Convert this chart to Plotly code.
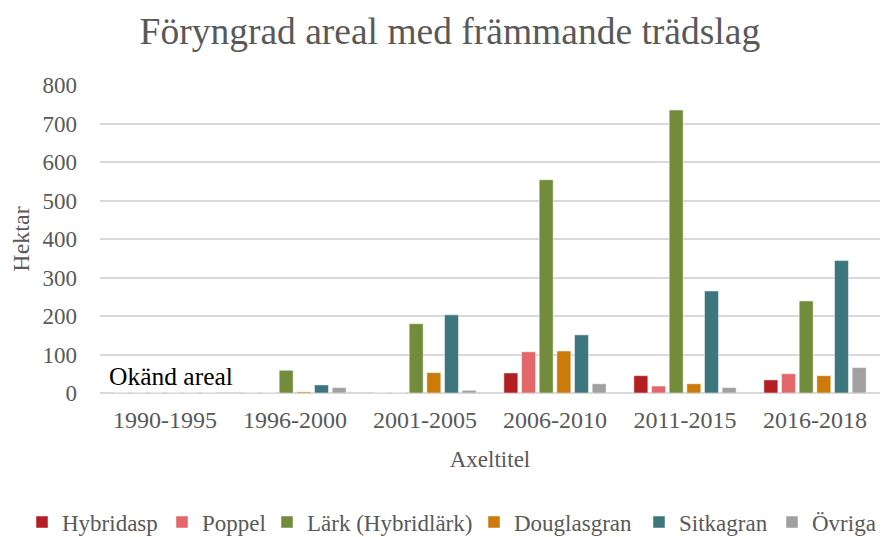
import plotly.graph_objects as go

categories = ["1990-1995", "1996-2000", "2001-2005", "2006-2010", "2011-2015", "2016-2018"]
series_names = ["Hybridasp", "Poppel", "Lärk (Hybridlärk)", "Douglasgran", "Sitkagran", "Övriga"]
hybridasp = [0, 0, 0, 52, 45, 34]
poppel = [0, 0, 0, 107, 18, 50]
lark = [0, 59, 180, 554, 735, 239]
douglasgran = [0, 3, 53, 109, 24, 45]
sitkagran = [0, 21, 203, 151, 265, 344]
ovriga = [0, 14, 7, 24, 14, 66]
colors = ["#B41F24", "#E4676A", "#728C3B", "#CC7A0A", "#3E767E", "#A0A0A0"]
legend_widths = [95, 60, 162, 120, 88, 62]

values = [hybridasp, poppel, lark, douglasgran, sitkagran, ovriga]
font = "Liberation Serif"
grey = "#595959"

fig = go.Figure()
for name, vals, c, lw in zip(series_names, values, colors, legend_widths):
    fig.add_trace(go.Bar(x=categories, y=vals, name=name, legendwidth=lw,
                         marker=dict(color=c, line=dict(color="rgba(255,255,255,0.6)", width=0.8))))

fig.add_annotation(x=categories[0], y=0, yshift=17, xshift=6, text="Okänd areal", showarrow=False,
                   font=dict(family=font, size=25.5, color="#000000"), xref="x", yref="y")

fig.update_layout(
    width=882, height=529,
    paper_bgcolor="white", plot_bgcolor="white",
    margin=dict(l=92, r=10, t=77, b=144, autoexpand=False),
    barmode="group", bargap=0.185, bargroupgap=0.21,
    title=dict(text="Föryngrad areal med främmande trädslag", x=0.501, xanchor="center",
               xref="container", yref="container", y=0.9565, yanchor="middle",
               font=dict(family=font, size=37.5, color=grey)),
    font=dict(family=font, color=grey),
    xaxis=dict(title=dict(text="Axeltitel", font=dict(family=font, size=23, color=grey), standoff=18),
               tickfont=dict(family=font, size=24, color=grey), ticklabelstandoff=10,
               showgrid=False, showline=False, ticks=""),
    yaxis=dict(title=dict(text="Hektar", font=dict(family=font, size=24, color=grey), standoff=8),
               range=[0, 800], dtick=100, tickfont=dict(family=font, size=23, color=grey),
               ticklabelstandoff=22,
               gridcolor="#d9d9d9", gridwidth=1.5, zeroline=True, zerolinecolor="#d9d9d9", zerolinewidth=1.5,
               showline=False, ticks=""),
    legend=dict(orientation="h", x=-0.100, xanchor="left",
                y=-0.419, yanchor="middle", font=dict(family=font, size=23, color=grey),
                itemwidth=30, tracegroupgap=0),
)

fig.write_html("out.html")
